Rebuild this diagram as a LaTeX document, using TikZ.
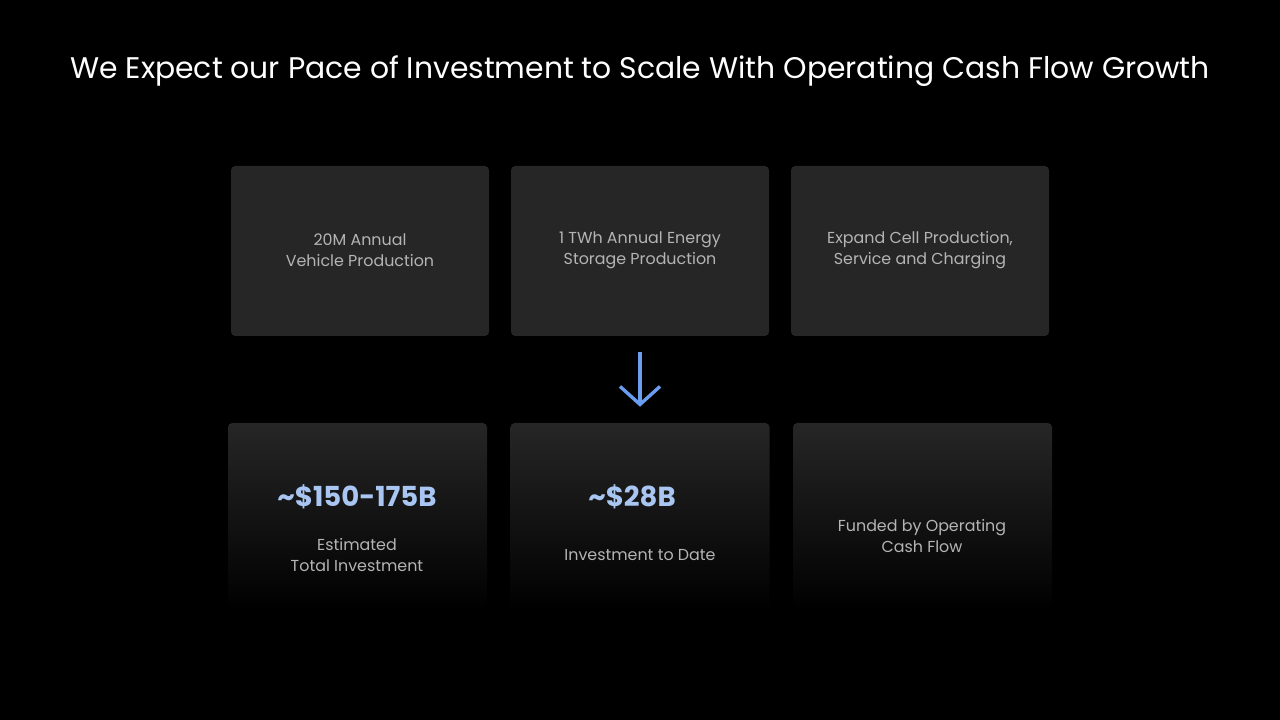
\documentclass[tikz,border=0pt]{standalone}
\usepackage{fontspec}
\setmainfont{Poppins}
\usetikzlibrary{positioning, arrows.meta}
\definecolor{fondo}{HTML}{000000}
\definecolor{caja}{HTML}{262626}
\definecolor{gris}{HTML}{B4B4B4}
\definecolor{azul}{HTML}{A9C6F2}
\definecolor{flecha}{HTML}{6A9DF0}
\begin{document}
\begin{tikzpicture}[x=0.025cm, y=-0.025cm,
				caja/.style={rectangle, rounded corners=3pt, fill=caja, minimum width=258*0.025cm, minimum height=170*0.025cm, inner sep=0pt},
				cajab/.style={rectangle, rounded corners=3pt, top color=caja, bottom color=fondo, minimum width=259*0.025cm, minimum height=188*0.025cm, inner sep=0pt},
				texto/.style={text=gris, font=\fontsize{11.3}{15.2}\selectfont, align=center, inner sep=0pt},
				cifra/.style={text=azul, font=\fontsize{19.6}{22}\selectfont\bfseries, inner sep=0pt}]
				\fill[fondo] (0,0) rectangle (1280,720);
				\node[text=white, font=\fontsize{21.2}{24}\selectfont, inner sep=0pt, anchor=base] (titulo) at (640,79) {We Expect our Pace of Investment to Scale With Operating Cash Flow Growth};
				\node[caja] (t1) at (360,251) {};
				\node[caja] (t2) at (640,251) {};
				\node[caja] (t3) at (920,251) {};
				\node[texto] (l1) at (360,250) {20M Annual\\Vehicle Production};
				\node[texto] (l2) at (640,250) {1 TWh Annual Energy\\Storage Production};
				\node[texto] (l3) at (920,250) {Expand Cell Production,\\Service and Charging};
				\node[cajab] (b1) at (357.5,517) {};
				\node[cajab] (b2) at (640,517) {};
				\node[cajab] (b3) at (922.5,517) {};
				\node[cifra] (c1) at (357,497) {\textasciitilde\$150-175B};
				\node[cifra] (c2) at (632,497) {\textasciitilde\$28B};
				\node[texto] (e1) at (357,555) {Estimated\\Total Investment};
				\node[texto] (e2) at (640,555) {Investment to Date};
				\node[texto] (e3) at (922,536) {Funded by Operating\\Cash Flow};
				\draw[flecha, line width=2.4pt, shorten <=16*0.025cm, shorten >=16*0.025cm, -{Straight Barb[length=4.5mm, width=10mm]}] (t2.south) -- (b2.north);
			\end{tikzpicture}
\end{document}
